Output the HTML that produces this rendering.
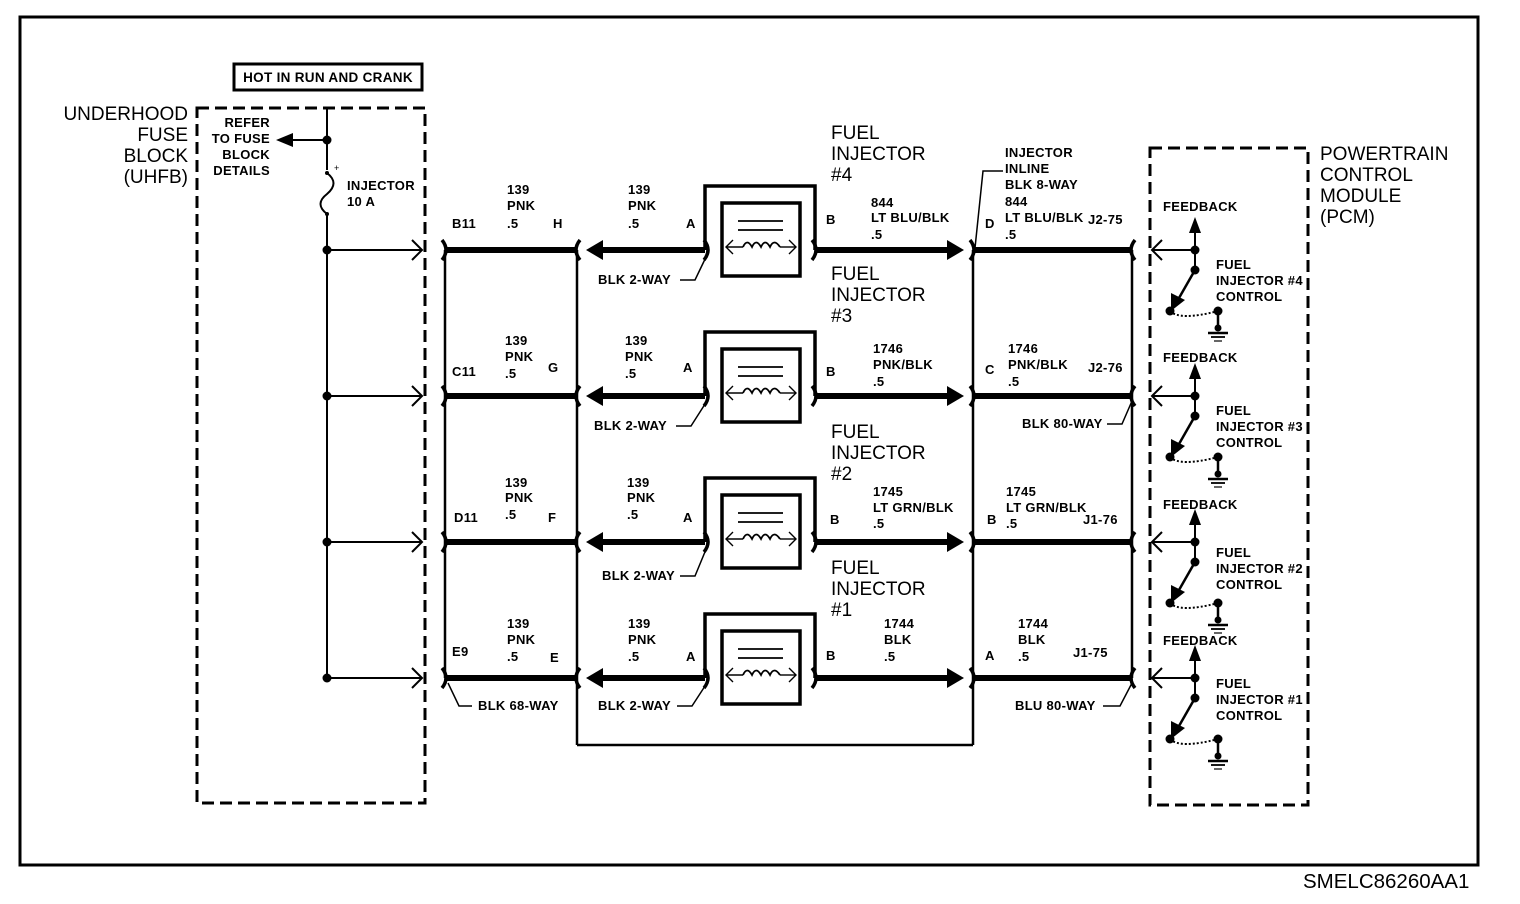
<!DOCTYPE html>
<html><head><meta charset="utf-8"><style>
html,body{margin:0;padding:0;background:#fff;}
svg{display:block;}
text{font-family:"Liberation Sans",sans-serif;fill:#000;}
.s{font-size:13px;font-weight:bold;letter-spacing:0.3px;}
.b{font-size:19px;}
</style></head><body>
<svg width="1520" height="904" viewBox="0 0 1520 904" xmlns="http://www.w3.org/2000/svg">
<defs>
<g id="row">
  <circle cx="327" cy="250" r="4.5"/>
  <line x1="327" y1="250" x2="422" y2="250" stroke="#000" stroke-width="2"/>
  <polyline points="412,240 422,250 412,260" fill="none" stroke="#000" stroke-width="2"/>
  <path d="M442,240 Q450,250 442,260" fill="none" stroke="#000" stroke-width="3.5"/>
  <line x1="445" y1="250" x2="577" y2="250" stroke="#000" stroke-width="6"/>
  <path d="M580,240 Q572,250 580,260" fill="none" stroke="#000" stroke-width="3.5"/>
  <polygon points="586,250 603,240 603,260"/>
  <line x1="600" y1="250" x2="705" y2="250" stroke="#000" stroke-width="6"/>
  <path d="M704,240 Q712,250 704,260" fill="none" stroke="#000" stroke-width="3.5"/>
  <path d="M705,250 V186 H815 V250" fill="none" stroke="#000" stroke-width="3.5"/>
  <rect x="722" y="203" width="78" height="73" fill="none" stroke="#000" stroke-width="3.5"/>
  <line x1="738" y1="221" x2="783" y2="221" stroke="#000" stroke-width="1.8"/>
  <line x1="738" y1="230" x2="783" y2="230" stroke="#000" stroke-width="1.8"/>
  <line x1="726" y1="247" x2="743" y2="247" stroke="#000" stroke-width="1.4"/>
  <line x1="780" y1="247" x2="796" y2="247" stroke="#000" stroke-width="1.4"/>
  <polyline points="733,240 726,247 733,254" fill="none" stroke="#000" stroke-width="1.4"/>
  <polyline points="789,240 796,247 789,254" fill="none" stroke="#000" stroke-width="1.4"/>
  <path d="M743,247 q4,-9 9,0 q4,-9 9,0 q4,-9 9,0 q4,-9 10,0" fill="none" stroke="#000" stroke-width="1.8"/>
  <path d="M812,240 Q820,250 812,260" fill="none" stroke="#000" stroke-width="3.5"/>
  <line x1="815" y1="250" x2="950" y2="250" stroke="#000" stroke-width="6"/>
  <polygon points="964,250 947,240 947,260"/>
  <path d="M970,240 Q978,250 970,260" fill="none" stroke="#000" stroke-width="3.5"/>
  <line x1="973" y1="250" x2="1132" y2="250" stroke="#000" stroke-width="6"/>
  <path d="M1135,240 Q1127,250 1135,260" fill="none" stroke="#000" stroke-width="3.5"/>
  <line x1="1152" y1="250" x2="1195" y2="250" stroke="#000" stroke-width="2"/>
  <polyline points="1162,240 1152,250 1162,260" fill="none" stroke="#000" stroke-width="2"/>
  <circle cx="1195" cy="250" r="4.5"/>
  <line x1="1195" y1="222" x2="1195" y2="270" stroke="#000" stroke-width="2"/>
  <polygon points="1195,217 1189,233 1201,233"/>
  <circle cx="1195" cy="270" r="4.5"/>
  <line x1="1195" y1="270" x2="1175" y2="305" stroke="#000" stroke-width="2.5"/>
  <polygon points="1171,311 1171,293 1185,300"/>
  <circle cx="1170" cy="311" r="4.5"/>
  <path d="M1170,311 Q1180,321 1218,311" fill="none" stroke="#000" stroke-width="2" stroke-dasharray="2,2"/>
  <circle cx="1218" cy="311" r="4.5"/>
  <line x1="1218" y1="311" x2="1218" y2="330" stroke="#000" stroke-width="2.5"/>
  <circle cx="1218" cy="328" r="3.5"/>
  <line x1="1208" y1="333" x2="1228" y2="333" stroke="#000" stroke-width="2.5"/>
  <line x1="1211" y1="337" x2="1225" y2="337" stroke="#000" stroke-width="1.8"/>
  <line x1="1214" y1="341" x2="1222" y2="341" stroke="#000" stroke-width="1.2"/>
</g>
</defs>
<rect x="20" y="17" width="1458" height="848" fill="none" stroke="#000" stroke-width="3"/>
<text x="1303" y="888" style="font-size:20.5px">SMELC86260AA1</text>

<rect x="234" y="64" width="188" height="26" fill="none" stroke="#000" stroke-width="3"/>
<text x="328" y="82" class="s" text-anchor="middle" style="font-size:13.5px">HOT IN RUN AND CRANK</text>

<rect x="197" y="108" width="228" height="695" fill="none" stroke="#000" stroke-width="3" stroke-dasharray="12,6"/>
<rect x="1150" y="148" width="158" height="657" fill="none" stroke="#000" stroke-width="3" stroke-dasharray="12,6"/>

<text class="b" text-anchor="end"><tspan x="188" y="120">UNDERHOOD</tspan><tspan x="188" y="141">FUSE</tspan><tspan x="188" y="162">BLOCK</tspan><tspan x="188" y="183">(UHFB)</tspan></text>
<text class="b"><tspan x="1320" y="160">POWERTRAIN</tspan><tspan x="1320" y="181">CONTROL</tspan><tspan x="1320" y="202">MODULE</tspan><tspan x="1320" y="223">(PCM)</tspan></text>

<text class="s" text-anchor="end"><tspan x="270" y="127">REFER</tspan><tspan x="270" y="143">TO FUSE</tspan><tspan x="270" y="159">BLOCK</tspan><tspan x="270" y="175">DETAILS</tspan></text>
<line x1="327" y1="108" x2="327" y2="170" stroke="#000" stroke-width="2"/>
<line x1="285" y1="140" x2="327" y2="140" stroke="#000" stroke-width="2"/>
<polygon points="276,140 293,133 293,147"/>
<circle cx="327" cy="140" r="4.5"/>
<circle cx="327" cy="173" r="2"/>
<path d="M327,173 Q340,183 327,194 Q314,204 327,214" fill="none" stroke="#000" stroke-width="2"/>
<circle cx="327" cy="214" r="2"/>
<text x="334" y="171" style="font-size:9px">+</text>
<text class="s"><tspan x="347" y="190">INJECTOR</tspan><tspan x="347" y="206">10 A</tspan></text>
<line x1="327" y1="214" x2="327" y2="678" stroke="#000" stroke-width="2"/>

<line x1="445" y1="250" x2="445" y2="678" stroke="#000" stroke-width="2.5"/>
<line x1="577" y1="250" x2="577" y2="745" stroke="#000" stroke-width="2.5"/>
<line x1="577" y1="745" x2="973" y2="745" stroke="#000" stroke-width="2.5"/>
<line x1="973" y1="250" x2="973" y2="745" stroke="#000" stroke-width="2.5"/>
<line x1="1132" y1="250" x2="1132" y2="678" stroke="#000" stroke-width="2.5"/>

<use href="#row"/>
<use href="#row" transform="translate(0,146)"/>
<use href="#row" transform="translate(0,292)"/>
<use href="#row" transform="translate(0,428)"/>

<!-- row 1 -->
<text class="s"><tspan x="452" y="228">B11</tspan><tspan x="507" y="194">139</tspan><tspan x="507" y="210">PNK</tspan><tspan x="507" y="228">.5</tspan><tspan x="553" y="228">H</tspan>
<tspan x="628" y="194">139</tspan><tspan x="628" y="210">PNK</tspan><tspan x="628" y="228">.5</tspan><tspan x="686" y="228">A</tspan><tspan x="826" y="224">B</tspan>
<tspan x="871" y="207">844</tspan><tspan x="871" y="222">LT BLU/BLK</tspan><tspan x="871" y="239">.5</tspan>
<tspan x="985" y="228">D</tspan><tspan x="1005" y="157">INJECTOR</tspan><tspan x="1005" y="173">INLINE</tspan><tspan x="1005" y="189">BLK 8-WAY</tspan><tspan x="1005" y="206">844</tspan><tspan x="1005" y="222">LT BLU/BLK</tspan><tspan x="1005" y="239">.5</tspan><tspan x="1088" y="224">J2-75</tspan>
<tspan x="598" y="284">BLK 2-WAY</tspan>
<tspan x="1163" y="211">FEEDBACK</tspan><tspan x="1216" y="269">FUEL</tspan><tspan x="1216" y="285">INJECTOR #4</tspan><tspan x="1216" y="301">CONTROL</tspan></text>
<polyline points="1003,171 983,171 975,248" fill="none" stroke="#000" stroke-width="1.5"/>
<polyline points="680,280 695,280 707,255" fill="none" stroke="#000" stroke-width="1.5"/>
<text class="b"><tspan x="831" y="139">FUEL</tspan><tspan x="831" y="160">INJECTOR</tspan><tspan x="831" y="181">#4</tspan></text>

<!-- row 2 -->
<text class="s"><tspan x="452" y="376">C11</tspan><tspan x="505" y="345">139</tspan><tspan x="505" y="361">PNK</tspan><tspan x="505" y="378">.5</tspan><tspan x="548" y="372">G</tspan>
<tspan x="625" y="345">139</tspan><tspan x="625" y="361">PNK</tspan><tspan x="625" y="378">.5</tspan><tspan x="683" y="372">A</tspan><tspan x="826" y="376">B</tspan>
<tspan x="873" y="353">1746</tspan><tspan x="873" y="369">PNK/BLK</tspan><tspan x="873" y="386">.5</tspan>
<tspan x="985" y="374">C</tspan><tspan x="1008" y="353">1746</tspan><tspan x="1008" y="369">PNK/BLK</tspan><tspan x="1008" y="386">.5</tspan><tspan x="1088" y="372">J2-76</tspan>
<tspan x="594" y="430">BLK 2-WAY</tspan><tspan x="1022" y="428">BLK 80-WAY</tspan>
<tspan x="1163" y="362">FEEDBACK</tspan><tspan x="1216" y="415">FUEL</tspan><tspan x="1216" y="431">INJECTOR #3</tspan><tspan x="1216" y="447">CONTROL</tspan></text>
<polyline points="676,426 691,426 707,401" fill="none" stroke="#000" stroke-width="1.5"/>
<polyline points="1107,424 1122,424 1132,401" fill="none" stroke="#000" stroke-width="1.5"/>
<text class="b"><tspan x="831" y="280">FUEL</tspan><tspan x="831" y="301">INJECTOR</tspan><tspan x="831" y="322">#3</tspan></text>

<!-- row 3 -->
<text class="s"><tspan x="454" y="522">D11</tspan><tspan x="505" y="487">139</tspan><tspan x="505" y="502">PNK</tspan><tspan x="505" y="519">.5</tspan><tspan x="548" y="522">F</tspan>
<tspan x="627" y="487">139</tspan><tspan x="627" y="502">PNK</tspan><tspan x="627" y="519">.5</tspan><tspan x="683" y="522">A</tspan><tspan x="830" y="524">B</tspan>
<tspan x="873" y="496">1745</tspan><tspan x="873" y="512">LT GRN/BLK</tspan><tspan x="873" y="528">.5</tspan>
<tspan x="987" y="524">B</tspan><tspan x="1006" y="496">1745</tspan><tspan x="1006" y="512">LT GRN/BLK</tspan><tspan x="1006" y="528">.5</tspan><tspan x="1083" y="524">J1-76</tspan>
<tspan x="602" y="580">BLK 2-WAY</tspan>
<tspan x="1163" y="509">FEEDBACK</tspan><tspan x="1216" y="557">FUEL</tspan><tspan x="1216" y="573">INJECTOR #2</tspan><tspan x="1216" y="589">CONTROL</tspan></text>
<polyline points="680,576 695,576 707,547" fill="none" stroke="#000" stroke-width="1.5"/>
<text class="b"><tspan x="831" y="438">FUEL</tspan><tspan x="831" y="459">INJECTOR</tspan><tspan x="831" y="480">#2</tspan></text>

<!-- row 4 -->
<text class="s"><tspan x="452" y="656">E9</tspan><tspan x="507" y="628">139</tspan><tspan x="507" y="644">PNK</tspan><tspan x="507" y="661">.5</tspan><tspan x="550" y="662">E</tspan>
<tspan x="628" y="628">139</tspan><tspan x="628" y="644">PNK</tspan><tspan x="628" y="661">.5</tspan><tspan x="686" y="661">A</tspan><tspan x="826" y="660">B</tspan>
<tspan x="884" y="628">1744</tspan><tspan x="884" y="644">BLK</tspan><tspan x="884" y="661">.5</tspan>
<tspan x="985" y="660">A</tspan><tspan x="1018" y="628">1744</tspan><tspan x="1018" y="644">BLK</tspan><tspan x="1018" y="661">.5</tspan><tspan x="1073" y="657">J1-75</tspan>
<tspan x="478" y="710">BLK 68-WAY</tspan><tspan x="598" y="710">BLK 2-WAY</tspan><tspan x="1015" y="710">BLU 80-WAY</tspan>
<tspan x="1163" y="645">FEEDBACK</tspan><tspan x="1216" y="688">FUEL</tspan><tspan x="1216" y="704">INJECTOR #1</tspan><tspan x="1216" y="720">CONTROL</tspan></text>
<polyline points="472,706 459,706 448,683" fill="none" stroke="#000" stroke-width="1.5"/>
<polyline points="677,706 692,706 707,683" fill="none" stroke="#000" stroke-width="1.5"/>
<polyline points="1103,706 1120,706 1132,683" fill="none" stroke="#000" stroke-width="1.5"/>
<text class="b"><tspan x="831" y="574">FUEL</tspan><tspan x="831" y="595">INJECTOR</tspan><tspan x="831" y="616">#1</tspan></text>
</svg>
</body></html>
